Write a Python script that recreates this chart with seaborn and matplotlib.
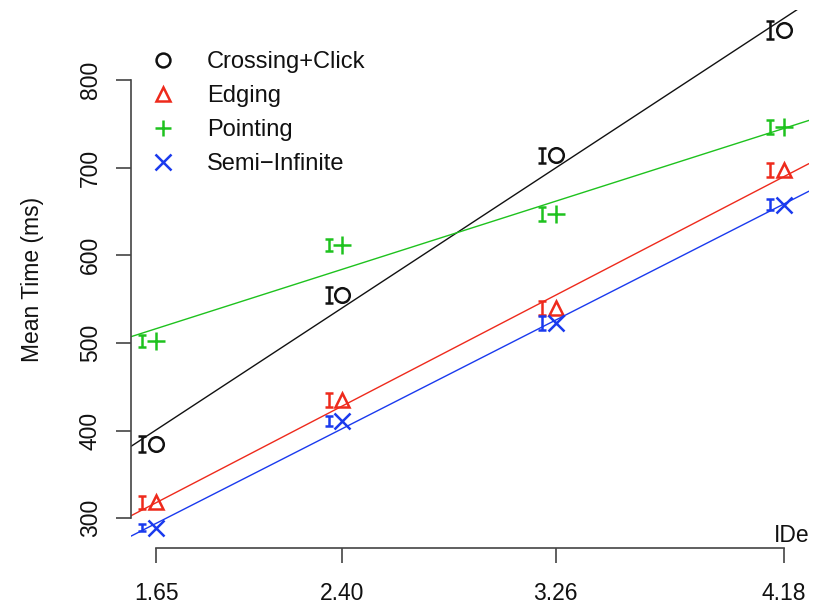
import numpy as np
import matplotlib
matplotlib.use("Agg")
import matplotlib.pyplot as plt
from matplotlib.lines import Line2D
import seaborn as sns

# ---- data ----
ide = [1.65, 2.40, 3.26, 4.18]
tick_labels = ["1.65", "2.40", "3.26", "4.18"]
series = ["Crossing+Click", "Edging", "Pointing", "Semi\u2212Infinite"]
crossing = [385, 555, 714, 857]
edging = [318, 435, 540, 697]
pointing = [502, 612, 647, 746]
semi = [289, 411, 523, 658]
crossing_err = [9, 9, 9, 10]
edging_err = [7, 8, 8, 8]
pointing_err = [7, 7, 8, 8]
semi_err = [4, 6, 8, 6]
y_ticks = [300, 400, 500, 600, 700, 800]

colors = ["#111111", "#EE2A1C", "#1EC21E", "#1A3AEE"]
markers = ["o", "^", "+", "x"]
msizes = [10.5, 10, 12.5, 11.5]

sns.set_style("ticks")
plt.rcParams["font.family"] = ["Liberation Sans", "DejaVu Sans"]

fig = plt.figure(figsize=(8.22, 6.04), dpi=100)
ax = fig.add_axes([131 / 822, 56 / 604, 678 / 822, 538 / 604])
ax.set_xlim(1.549, 4.281)
ax.set_ylim(266, 880)

values = [crossing, edging, pointing, semi]
errs = [crossing_err, edging_err, pointing_err, semi_err]
off = 0.055
for name, vals, err, c, m, ms in zip(series, values, errs, colors, markers, msizes):
    sns.regplot(x=np.array(ide), y=np.array(vals, dtype=float), scatter=False,
                ci=None, truncate=False, color=c, line_kws={"lw": 1.0}, ax=ax)
    ax.plot(ide, vals, linestyle="none", marker=m, ms=ms,
            mfc="none", mec=c, mew=1.8)
    ax.errorbar(np.array(ide) - off, vals, yerr=err, fmt="none", ecolor=c,
                elinewidth=1.8, capsize=3, capthick=1.8)

ax.set_xlim(1.549, 4.281)
ax.set_ylim(266, 880)

for s in ["top", "right"]:
    ax.spines[s].set_visible(False)
for s in ["left", "bottom"]:
    ax.spines[s].set_color("#444444")
    ax.spines[s].set_linewidth(1.2)
ax.spines["left"].set_bounds(300, 800)
ax.spines["bottom"].set_bounds(1.65, 4.18)

ax.set_xticks(ide)
ax.set_xticklabels(tick_labels)
ax.set_yticks(y_ticks)
ax.set_yticklabels([str(v) for v in y_ticks])
ax.tick_params(axis="both", direction="out", length=11, width=1.2,
               bottom=True, left=True, top=False, right=False,
               color="#444444", labelsize=16.5, labelcolor="#111111")
ax.tick_params(axis="x", pad=13.5)
ax.tick_params(axis="y", pad=10)
for lab in ax.get_yticklabels():
    lab.set_rotation(90)
    lab.set_va("center")

ax.set_ylabel("Mean Time (ms)", fontsize=16.5, color="#111111")
ax.yaxis.set_label_coords(-0.128, 0.5)

ax.text(1.0, 0.011, "IDe", transform=ax.transAxes, ha="right", va="baseline",
        fontsize=16.5, color="#111111")

handles = [Line2D([], [], linestyle="none", marker=m, ms=ms * 0.95,
                  mfc="none", mec=c, mew=1.8)
           for m, c, ms in zip(markers, colors, msizes)]
leg = ax.legend(handles, series, loc="upper left", frameon=False,
                bbox_to_anchor=(151 / 822, 1 - 51 / 604),
                bbox_transform=fig.transFigure, borderpad=0, borderaxespad=0,
                handlelength=1.0, handletextpad=1.36, labelspacing=0.51,
                fontsize=17)
for t in leg.get_texts():
    t.set_color("#111111")

fig.savefig("out.png", dpi=100)
